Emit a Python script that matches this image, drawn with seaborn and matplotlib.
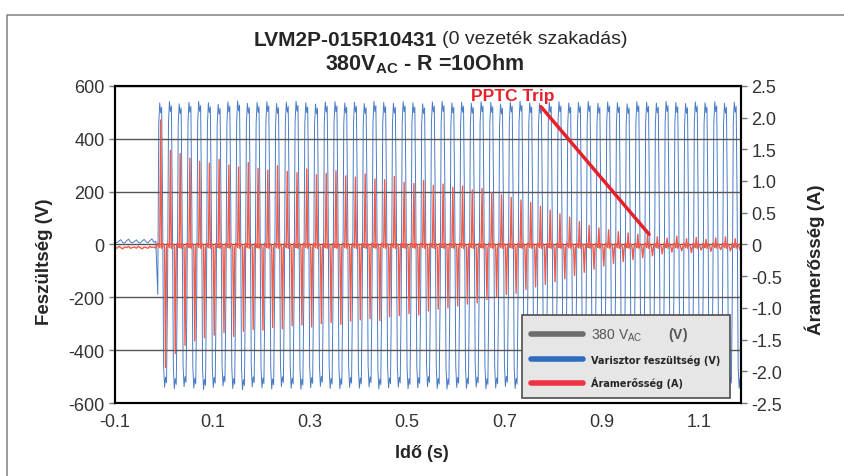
import numpy as np
import pandas as pd
import matplotlib
matplotlib.use("Agg")
import matplotlib.pyplot as plt
import seaborn as sns
from matplotlib.lines import Line2D
from matplotlib.ticker import FuncFormatter

# scope trace: 50 Hz, 10 samples per cycle after switch-on
dt = 0.002
t_trigger = -0.012
pre_dt = 0.004

# before switch-on (every 4 ms from -0.1 s)
pre_volt = [8, 6, 12, 18, 7, 5, 14, 20, 9, 6, 11,
            17, 8, 5, 13, 19, 10, 6, 15, 21, 8, 12]
pre_amp = [-0.04, -0.06, -0.03, -0.05, -0.07, -0.04, -0.05, -0.03, -0.06, -0.05, -0.04,
           -0.06, -0.03, -0.05, -0.07, -0.04, -0.05, -0.06, -0.03, -0.05, -0.04, -0.06]

# varistor voltage peaks per cycle (V)
volt_peak_pos = [535, 540, 532, 538, 541, 536, 530, 539, 543, 534,
                 537, 540, 533, 538, 542, 536, 531, 539, 540, 535,
                 538, 533, 541, 537, 534, 540, 536, 532, 539, 541,
                 535, 538, 534, 540, 537, 531, 539, 542, 536, 533,
                 538, 540, 535, 537, 541, 534, 539, 536, 532, 540,
                 538, 535, 541, 537, 533, 539, 536, 540, 534, 538]
volt_peak_neg = [-540, -546, -538, -544, -549, -541, -536, -545, -550, -539,
                 -543, -547, -538, -544, -548, -542, -537, -545, -546, -541,
                 -544, -539, -547, -543, -540, -546, -542, -538, -545, -547,
                 -541, -544, -540, -546, -543, -537, -545, -548, -542, -539,
                 -544, -546, -541, -543, -547, -540, -545, -542, -538, -546,
                 -544, -541, -547, -543, -539, -545, -542, -546, -540, -544]

# current peaks per cycle (A)
amp_peak_pos = [1.98, 1.50, 1.45, 1.38, 1.33, 1.30, 1.36, 1.27, 1.24, 1.31,
                1.22, 1.19, 1.26, 1.17, 1.15, 1.21, 1.12, 1.14, 1.18, 1.10,
                1.08, 1.13, 1.05, 1.04, 1.09, 1.00, 0.98, 1.03, 0.95, 0.97,
                0.92, 0.94, 0.88, 0.90, 0.84, 0.80, 0.76, 0.72, 0.68, 0.62,
                0.56, 0.50, 0.45, 0.38, 0.32, 0.28, 0.25, 0.22, 0.20, 0.18,
                0.17, 0.14, 0.12, 0.15, 0.11, 0.13, 0.10, 0.12, 0.14, 0.11]
amp_peak_neg = [-1.97, -1.75, -1.62, -1.55, -1.50, -1.46, -1.42, -1.48, -1.40, -1.37,
                -1.38, -1.34, -1.36, -1.31, -1.30, -1.33, -1.28, -1.26, -1.29, -1.24,
                -1.22, -1.20, -1.23, -1.17, -1.15, -1.12, -1.14, -1.08, -1.05, -1.03,
                -1.00, -0.97, -0.95, -0.90, -0.86, -0.82, -0.80, -0.74, -0.70, -0.66,
                -0.62, -0.57, -0.52, -0.47, -0.42, -0.37, -0.33, -0.30, -0.27, -0.24,
                -0.21, -0.18, -0.15, -0.13, -0.16, -0.12, -0.14, -0.11, -0.13, -0.12]

# sample pattern inside one cycle
volt_shape = [-0.35, 0.85, 1.0, 0.93, 0.97, 0.25, -0.85, -1.0, -0.93, -0.97]
amp_shape_pos = [0, 0, 0, 1, 0, 0, 0, 0, 0, 0]
amp_shape_neg = [0, 0, 0, 0, 0, 0, 0, 0, 1, 0]
amp_noise = [0.02, 0.0, -0.05, -0.02, -0.06, 0.01, 0.0, -0.04, 0.03, -0.05]

# build the traces
t_vals, v_vals, a_vals = [], [], []
for j in range(len(pre_volt)):
    t_vals.append(-0.1 + j * pre_dt)
    v_vals.append(pre_volt[j])
    a_vals.append(pre_amp[j])
n = 0
for k in range(len(volt_peak_pos)):
    for i, s in enumerate(volt_shape):
        t_vals.append(t_trigger + n * dt)
        v_vals.append(s * volt_peak_pos[k] if s >= 0 else -s * volt_peak_neg[k])
        a_vals.append(amp_shape_pos[i] * amp_peak_pos[k]
                      + amp_shape_neg[i] * amp_peak_neg[k] + amp_noise[i])
        n += 1

df = pd.DataFrame({'t': t_vals, 'V': v_vals, 'A': a_vals})

sns.set_style("white")
plt.rcParams['font.family'] = ['Liberation Sans', 'DejaVu Sans']
plt.rcParams['axes.unicode_minus'] = False
plt.rcParams['mathtext.fontset'] = 'custom'
plt.rcParams['mathtext.rm'] = 'Liberation Sans'
plt.rcParams['mathtext.bf'] = 'Liberation Sans:bold'

fig = plt.figure(figsize=(8.45, 4.77), dpi=100)
ax = fig.add_axes([0.136, 0.153, 0.741, 0.665])

sns.lineplot(data=df, x='t', y='V', ax=ax, color='#4a7cc6', lw=0.7,
             estimator=None, sort=False)

ax.set_xlim(-0.1, 1.186)
ax.set_ylim(-600, 600)
ax.set_xticks([-0.1, 0.1, 0.3, 0.5, 0.7, 0.9, 1.1])
ax.set_xticklabels(['-0.1', '0.1', '0.3', '0.5', '0.7', '0.9', '1.1'])
ax.set_yticks(range(-600, 601, 200))
ax.yaxis.grid(True, color='#555555', lw=1.0)
ax.xaxis.grid(False)
ax.set_axisbelow(False)

ax2 = ax.twinx()
sns.lineplot(data=df, x='t', y='A', ax=ax2, color='#f25a48', lw=1.0,
             estimator=None, sort=False)
ax2.set_ylim(-2.5, 2.5)
ax2.set_yticks(np.arange(-2.5, 2.51, 0.5))
ax2.yaxis.set_major_formatter(FuncFormatter(lambda v, p: '0' if abs(v) < 1e-9 else '%.1f' % v))

for a in (ax, ax2):
    a.tick_params(direction='out', length=4, width=1, color='#777777',
                  labelsize=13, labelcolor='#333333')
    for sp in a.spines.values():
        sp.set_color('black')
        sp.set_linewidth(1.5)

ax.set_xlabel('Idő (s)', fontsize=13, fontweight='bold')
ax.set_ylabel('Feszültség (V)', fontsize=13.5, fontweight='bold')
ax2.set_ylabel('Áramerősség (A)', fontsize=13.5, fontweight='bold')
ax.xaxis.set_label_coords(0.49, -0.13)
ax.yaxis.set_label_coords(-0.099, 0.45)
ax2.yaxis.set_label_coords(1.102, 0.455)

# PPTC trip marker
ax2.annotate('PPTC Trip', xy=(0.997, 0.16), xytext=(0.718, 2.34),
             ha='center', va='center', color='#e8202a', fontsize=12.5,
             fontweight='bold', family=['Liberation Sans Narrow', 'Liberation Sans'],
             annotation_clip=False,
             arrowprops=dict(arrowstyle='-', color='#e8202a', lw=2.5,
                             relpos=(0.8, 0.0), shrinkA=0, shrinkB=0))

# legend
handles = [Line2D([], [], color='#6d6d6d', lw=4),
           Line2D([], [], color='#2f6cbf', lw=4),
           Line2D([], [], color='#ee3346', lw=4)]
labels = [r'380 V$_{\mathregular{AC}}$       $\mathbf{(V)}$',
          'Varisztor feszültség (V)', 'Áramerősség (A)']
leg = ax2.legend(handles, labels, loc='lower left', bbox_to_anchor=(0.642, 0.0),
                 fontsize=7, handlelength=5.3, labelspacing=1.2, borderpad=1.0,
                 fancybox=False, framealpha=1)
leg.get_frame().set_facecolor('#e6e6e6')
leg.get_frame().set_edgecolor('#4d4d4d')
leg.get_frame().set_linewidth(1.2)
txts = leg.get_texts()
txts[0].set_fontsize(10)
txts[0].set_color('#555555')
for tx in txts[1:]:
    tx.set_fontweight('bold')
    tx.set_family(['DejaVu Sans'])

# titles
fig.text(437 / 845, 1 - 40 / 477, 'LVM2P-015R10431', ha='right', va='center',
         fontsize=15, fontweight='bold')
fig.text(442 / 845, 1 - 40 / 477, '(0 vezeték szakadás)', ha='left', va='center',
         fontsize=14)
fig.text(425 / 845, 1 - 64 / 477, r'380V$_{\mathbf{AC}}$ - R =10Ohm', ha='center',
         va='center', fontsize=15.5, fontweight='bold')

# outer frame of the source picture
fig.add_artist(Line2D([7 / 845, 7 / 845, 1.0], [0, 1 - 16 / 477, 1 - 16 / 477],
                      transform=fig.transFigure, color='#8a8a8a', lw=1.2))

fig.savefig('out.png', dpi=100)
